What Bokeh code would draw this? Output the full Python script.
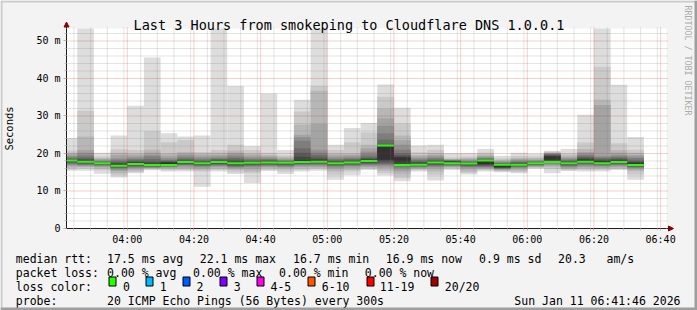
import math
from bokeh.plotting import figure
from bokeh.models import ColumnDataSource, FixedTicker, Range1d, Arrow, NormalHead, LinearAxis
from bokeh.core.properties import value
from bokeh.embed import file_html
from bokeh.resources import INLINE

# ---------------- data ----------------
TITLE = "Last 3 Hours from smokeping to Cloudflare DNS 1.0.0.1"
Y_LABEL = "Seconds"
WATERMARK = "RRDTOOL / TOBI OETIKER"
VIEW_START = "03:41:46"
VIEW_END = "06:41:46"
STEP_MINUTES = 5
Y_MAX_MS = 53.333

SLOTS = ["03:40", "03:45", "03:50", "03:55", "04:00", "04:05", "04:10", "04:15", "04:20",
         "04:25", "04:30", "04:35", "04:40", "04:45", "04:50", "04:55", "05:00", "05:05",
         "05:10", "05:15", "05:20", "05:25", "05:30", "05:35", "05:40", "05:45", "05:50",
         "05:55", "06:00", "06:05", "06:10", "06:15", "06:20", "06:25", "06:30"]

# 20 sorted ping rtts (ms) per 5-minute slot
PINGS = [
    [15.4, 15.7, 16.2, 16.6, 16.9, 17.1, 17.4, 17.6, 17.8, 18.0, 18.2, 18.3, 18.5, 18.7, 19.0, 19.3, 19.8, 20.2, 20.8, 24.1],
    [15.4, 15.9, 16.3, 16.5, 16.7, 16.9, 17.1, 17.3, 17.5, 17.7, 18.0, 18.3, 18.6, 19.0, 19.5, 20.2, 20.9, 24.5, 31.4, 55.0],
    [14.6, 15.5, 15.9, 16.3, 16.6, 16.7, 16.9, 17.0, 17.2, 17.3, 17.5, 17.6, 17.7, 17.8, 18.0, 18.2, 18.5, 18.8, 19.2, 20.2],
    [13.6, 14.2, 14.7, 15.3, 15.6, 15.9, 16.1, 16.3, 16.5, 16.7, 17.0, 17.3, 17.6, 17.9, 18.3, 18.7, 19.6, 20.2, 21.1, 24.8],
    [14.7, 15.0, 15.4, 15.8, 16.1, 16.3, 16.5, 16.7, 16.9, 17.1, 17.4, 17.7, 18.0, 18.3, 18.6, 19.0, 19.5, 20.0, 20.9, 32.7],
    [15.5, 15.7, 15.9, 16.1, 16.2, 16.3, 16.5, 16.6, 16.7, 16.8, 17.1, 17.5, 17.9, 18.5, 19.2, 19.6, 20.2, 21.0, 26.0, 45.6],
    [15.2, 15.5, 15.8, 16.1, 16.3, 16.5, 16.6, 16.7, 16.8, 17.0, 17.6, 17.7, 17.9, 18.1, 18.3, 18.8, 19.4, 20.0, 23.0, 25.4],
    [15.2, 15.6, 15.8, 16.2, 16.6, 16.9, 17.0, 17.2, 17.4, 17.6, 17.8, 18.0, 18.3, 18.6, 19.0, 19.5, 19.9, 20.4, 23.6, 24.5],
    [11.1, 15.2, 15.5, 15.9, 16.3, 16.6, 16.7, 16.9, 17.1, 17.3, 17.5, 17.7, 17.9, 18.2, 18.6, 19.0, 19.5, 20.0, 20.4, 24.8],
    [15.2, 15.6, 15.9, 16.3, 16.6, 16.8, 17.0, 17.2, 17.4, 17.6, 17.8, 18.0, 18.3, 18.5, 18.8, 19.2, 19.6, 20.2, 20.9, 56.0],
    [14.5, 15.0, 15.6, 15.9, 16.2, 16.4, 16.6, 16.8, 17.0, 17.3, 17.6, 17.9, 18.3, 18.7, 19.2, 19.7, 20.2, 20.8, 22.3, 38.0],
    [12.1, 14.7, 15.2, 15.8, 16.3, 16.6, 16.8, 17.0, 17.2, 17.4, 17.6, 17.8, 18.0, 18.3, 18.6, 19.0, 19.5, 20.0, 20.9, 22.0],
    [15.3, 15.6, 16.0, 16.3, 16.5, 16.7, 16.9, 17.1, 17.3, 17.5, 17.7, 17.9, 18.1, 18.3, 18.5, 18.9, 19.2, 19.6, 20.2, 36.0],
    [14.5, 15.1, 15.7, 16.1, 16.4, 16.6, 16.8, 17.0, 17.2, 17.4, 17.6, 17.7, 17.8, 18.0, 18.2, 18.4, 18.7, 19.1, 19.5, 20.9],
    [15.2, 15.6, 16.0, 16.4, 16.7, 16.9, 17.1, 17.3, 17.5, 17.8, 18.2, 19.1, 20.2, 21.4, 23.4, 24.3, 25.0, 27.7, 31.2, 34.3],
    [15.4, 15.8, 16.1, 16.4, 16.7, 16.9, 17.2, 17.4, 17.6, 17.8, 18.1, 18.5, 19.0, 19.6, 20.2, 21.0, 27.9, 36.7, 38.0, 57.0],
    [13.0, 14.3, 15.2, 15.8, 16.2, 16.5, 16.7, 16.9, 17.1, 17.3, 17.6, 17.8, 18.0, 18.3, 18.6, 19.0, 19.5, 20.0, 20.9, 22.3],
    [14.2, 15.2, 15.6, 16.1, 16.5, 16.7, 16.9, 17.1, 17.3, 17.5, 17.7, 17.9, 18.2, 18.5, 18.8, 19.2, 19.6, 20.0, 23.0, 26.8],
    [15.6, 15.8, 16.1, 16.4, 16.7, 16.9, 17.2, 17.4, 17.6, 17.9, 18.2, 18.5, 18.8, 19.2, 19.8, 20.5, 21.4, 22.3, 25.6, 28.1],
    [14.1, 14.7, 15.4, 16.1, 16.5, 16.9, 17.2, 17.5, 17.9, 18.3, 21.8, 22.0, 22.6, 23.7, 25.4, 27.4, 29.4, 32.0, 35.1, 38.4],
    [12.6, 13.4, 14.4, 15.2, 15.7, 16.2, 16.6, 16.9, 17.2, 17.8, 18.9, 19.2, 19.6, 20.1, 21.0, 22.3, 23.5, 24.8, 28.0, 32.2],
    [15.2, 15.5, 15.8, 16.0, 16.2, 16.4, 16.6, 16.7, 16.8, 17.0, 17.2, 17.5, 17.8, 18.1, 18.4, 18.8, 19.2, 19.6, 20.3, 22.1],
    [12.8, 14.3, 15.2, 15.9, 16.3, 16.6, 16.8, 17.0, 17.2, 17.4, 17.7, 17.9, 18.1, 18.4, 18.8, 19.2, 19.6, 20.1, 21.0, 22.3],
    [15.6, 15.9, 16.2, 16.4, 16.6, 16.7, 16.9, 17.1, 17.3, 17.5, 17.8, 17.9, 18.0, 18.1, 18.2, 18.3, 18.4, 18.6, 18.9, 20.1],
    [14.4, 14.8, 15.2, 15.8, 16.2, 16.4, 16.6, 16.8, 17.0, 17.2, 17.4, 17.5, 17.6, 17.8, 18.0, 18.2, 18.5, 18.8, 19.2, 20.1],
    [15.2, 15.5, 15.8, 16.0, 16.2, 16.4, 16.6, 16.8, 17.0, 17.2, 18.2, 18.3, 18.4, 18.6, 18.8, 19.0, 19.3, 19.7, 20.2, 21.2],
    [15.0, 15.2, 15.4, 15.6, 15.8, 15.9, 16.0, 16.1, 16.2, 16.4, 17.1, 17.2, 17.3, 17.4, 17.6, 17.8, 18.0, 18.3, 18.7, 19.4],
    [14.7, 15.0, 15.4, 15.8, 16.1, 16.3, 16.5, 16.6, 16.8, 16.9, 17.1, 17.3, 17.5, 17.7, 17.9, 18.2, 18.5, 18.8, 19.3, 20.2],
    [15.9, 16.1, 16.3, 16.5, 16.6, 16.8, 16.9, 17.0, 17.2, 17.3, 17.5, 17.6, 17.7, 17.8, 18.0, 18.2, 18.4, 18.8, 19.2, 19.9],
    [14.7, 15.8, 16.3, 16.7, 17.0, 17.3, 17.6, 17.9, 18.1, 18.3, 19.2, 19.4, 19.6, 19.8, 19.9, 20.0, 20.1, 20.3, 20.5, 20.7],
    [15.3, 15.5, 15.8, 16.0, 16.3, 16.5, 16.7, 16.9, 17.1, 17.3, 17.5, 17.7, 17.9, 18.1, 18.4, 18.7, 19.0, 19.5, 20.0, 21.2],
    [15.2, 15.6, 15.9, 16.3, 16.6, 16.9, 17.2, 17.4, 17.7, 18.0, 18.3, 18.6, 18.9, 19.2, 19.6, 20.0, 20.4, 21.2, 22.9, 30.3],
    [15.2, 15.6, 15.9, 16.2, 16.5, 16.7, 16.9, 17.1, 17.3, 17.5, 17.9, 18.1, 18.4, 18.7, 19.0, 19.4, 32.9, 34.3, 43.1, 58.0],
    [15.6, 15.8, 16.0, 16.4, 16.7, 16.9, 17.1, 17.3, 17.5, 17.7, 18.0, 18.3, 18.6, 18.9, 19.2, 19.6, 20.2, 20.9, 22.7, 38.3],
    [13.0, 14.4, 15.3, 15.7, 16.0, 16.2, 16.4, 16.6, 16.8, 17.0, 17.4, 17.7, 18.0, 18.3, 18.8, 19.2, 19.6, 20.2, 21.0, 24.4],
]

MEDIAN = [18.1, 17.8, 17.4, 16.7, 17.2, 16.9, 16.9, 17.7, 17.4, 17.7,
          17.4, 17.5, 17.6, 17.5, 17.7, 17.8, 17.4, 17.6, 18.0, 22.1,
          16.9, 17.0, 17.6, 17.4, 17.3, 18.1, 17.0, 17.0, 17.4, 17.7,
          17.4, 17.8, 17.4, 17.7, 16.9]

Y_TICKS = [0, 10, 20, 30, 40, 50]
Y_TICK_LABELS = ["0", "10 m", "20 m", "30 m", "40 m", "50 m"]
X_TICK_TIMES = ["04:00", "04:20", "04:40", "05:00", "05:20", "05:40", "06:00", "06:20", "06:40"]

MEDIAN_RTT_ITEMS = ["17.5 ms avg", "22.1 ms max", "16.7 ms min", "16.9 ms now", "0.9 ms sd", "20.3", "am/s"]
PACKET_LOSS_ITEMS = ["0.00 % avg", "0.00 % max", "0.00 % min", "0.00 % now"]
LOSS_LABELS = ["0", "1", "2", "3", "4-5", "6-10", "11-19", "20/20"]
LOSS_COLORS = ["#26ff00", "#00b8ff", "#0059ff", "#7e00ff", "#ff00ea", "#ff5500", "#ff0000", "#a10000"]
PROBE_TEXT = "20 ICMP Echo Pings (56 Bytes) every 300s"
TIMESTAMP = "Sun Jan 11 06:41:46 2026"


def to_min(s):
    parts = [int(v) for v in s.split(":")]
    while len(parts) < 3:
        parts.append(0)
    return parts[0] * 60 + parts[1] + parts[2] / 60.0


# ---------------- layout constants (pixels of the 697x310 page) ----------------
W, H = 697, 310
CANVAS_L, CANVAS_R, CANVAS_T, CANVAS_B = 66, 666, 28, 228
FONT = "DejaVu Sans Mono"
BG = "#f3f3f3"
AXIS_C = "#1e1e1e"
ARROW_C = "#8b0000"
MAJOR_C, MINOR_C = "#cc2222", "#808080"
SHADE_A, SHADE_B = "#cbcbcb", "#9e9e9e"

x0, x1 = to_min(VIEW_START), to_min(VIEW_END)
px_x = (x1 - x0) / (CANVAS_R - CANVAS_L)
px_y = Y_MAX_MS / (CANVAS_B - CANVAS_T)

# one figure whose frame is the whole page; the graph's own scale maps
# VIEW_START..VIEW_END onto the rrdtool canvas, axes are pinned with fixed_location
p = figure(width=W, height=H, title=None,
           x_range=Range1d(x0 - CANVAS_L * px_x, x0 + (W - CANVAS_L) * px_x),
           y_range=Range1d(-(H - CANVAS_B) * px_y, CANVAS_B * px_y),
           x_axis_type=None, y_axis_type=None,
           output_backend="svg", toolbar_location=None,
           min_border_left=0, min_border_right=0, min_border_top=0, min_border_bottom=0)
p.extra_x_ranges = {"px": Range1d(0, W)}
p.extra_y_ranges = {"px": Range1d(H, 0)}
p.background_fill_color = BG
p.border_fill_color = BG
p.outline_line_color = None
p.grid.visible = False

# white canvas of the graph
p.quad(left=[x0], right=[x1], bottom=[0], top=[Y_MAX_MS], fill_color="#ffffff", line_color=None)

# smoke: layer i spans ping i .. ping n-1-i, darker towards the centre
n_pings = len(PINGS[0])
half = n_pings // 2
left, right, bottom, top, color = [], [], [], [], []
for i in range(half):
    g = int(190 / half * (half - 1 - i)) + 50
    col = "#%02x%02x%02x" % (g, g, g)
    for k, s in enumerate(SLOTS):
        t = to_min(s)
        left.append(max(t, x0))
        right.append(t + STEP_MINUTES)
        bottom.append(min(PINGS[k][i], Y_MAX_MS))
        top.append(min(PINGS[k][n_pings - 1 - i], Y_MAX_MS))
        color.append(col)
smoke = ColumnDataSource(dict(left=left, right=right, bottom=bottom, top=top, color=color))
p.quad(left="left", right="right", bottom="bottom", top="top", fill_color="color",
       line_color=None, source=smoke)

# median band (2 px tall)
ms = ColumnDataSource(dict(
    left=[max(to_min(s), x0) for s in SLOTS],
    right=[to_min(s) + STEP_MINUTES for s in SLOTS],
    bottom=[m - px_y for m in MEDIAN],
    top=[m + px_y for m in MEDIAN],
))
p.quad(left="left", right="right", bottom="bottom", top="top", fill_color=LOSS_COLORS[0],
       line_color=None, source=ms)

# ---------------- grid (dotted, on top of the smoke) ----------------
x_ticks = [to_min(s) for s in X_TICK_TIMES]
x_minor = [m for m in range(int(x0) + 3, int(x1) + 1, 5) if m % 20 != 0]
y_minor = [v for v in range(2, 54, 2) if v % 10 != 0]
y_major = [v for v in Y_TICKS if v > 0]


def vgrid(xs, c, a):
    p.segment(x0=xs, x1=xs, y0=[0] * len(xs), y1=[Y_MAX_MS + 2 * px_y] * len(xs),
              line_color=c, line_alpha=a, line_width=1, line_dash="1 1")


def hgrid(ys, c, a):
    p.segment(x0=[x0] * len(ys), x1=[x1 + 2 * px_x] * len(ys), y0=ys, y1=ys,
              line_color=c, line_alpha=a, line_width=1, line_dash="1 1")


vgrid(x_minor, MINOR_C, 0.42)
hgrid(y_minor, MINOR_C, 0.42)
vgrid(x_ticks, MAJOR_C, 0.42)
hgrid(y_major, MAJOR_C, 0.42)

# ---------------- axes ----------------
xt = FixedTicker(ticks=x_ticks, minor_ticks=x_minor)
yt = FixedTicker(ticks=Y_TICKS, minor_ticks=y_minor)
xaxis = LinearAxis(fixed_location=0, ticker=xt, bounds=(x0, x1),
                   major_label_overrides={t: lab for t, lab in zip(x_ticks, X_TICK_TIMES)})
yaxis = LinearAxis(fixed_location=x0, ticker=yt, bounds=(0, Y_MAX_MS),
                   major_label_overrides={t: lab for t, lab in zip(Y_TICKS, Y_TICK_LABELS)})
for ax in (xaxis, yaxis):
    ax.axis_line_color = AXIS_C
    ax.major_tick_in = 0
    ax.minor_tick_in = 0
    ax.major_tick_out = 2
    ax.minor_tick_out = 2
    ax.major_tick_line_color = "#e89c9c"
    ax.minor_tick_line_color = "#c6c6c6"
    ax.major_label_text_font = FONT
    ax.major_label_text_font_size = "10px"
    ax.major_label_text_color = "#000000"
yaxis.major_tick_out = 3
yaxis.major_label_standoff = 3
xaxis.major_label_standoff = 3
yaxis.axis_label = Y_LABEL
yaxis.axis_label_text_font = FONT
yaxis.axis_label_text_font_size = "10.5px"
yaxis.axis_label_text_font_style = "normal"
yaxis.axis_label_text_color = "#000000"
yaxis.axis_label_standoff = 18
p.add_layout(xaxis, "below")
p.add_layout(yaxis, "left")

# axis arrows
p.add_layout(Arrow(end=NormalHead(size=5, fill_color=ARROW_C, line_color=ARROW_C, line_width=1),
                   x_start=x1, y_start=0, x_end=x1 + 7 * px_x, y_end=0,
                   line_color=AXIS_C, line_width=1))
p.add_layout(Arrow(end=NormalHead(size=5, fill_color=ARROW_C, line_color=ARROW_C, line_width=1),
                   x_start=x0, y_start=Y_MAX_MS, x_end=x0, y_end=Y_MAX_MS + 6.5 * px_y,
                   line_color=AXIS_C, line_width=1))

# ---------------- texts in page pixels ----------------
p.text(x=[W / 2], y=[24], text=[TITLE], x_range_name="px", y_range_name="px",
       text_align="center", text_baseline="alphabetic", text_color="#000000",
       text_font=value(FONT), text_font_size=value("13.5px"))
p.text(x=[687.5], y=[5], text=[WATERMARK], x_range_name="px", y_range_name="px",
       angle=-math.pi / 2, text_align="left", text_baseline="middle", text_color="#ababab",
       text_font=value(FONT), text_font_size=value("8.3px"))

rows_y = [258, 272, 286, 300]
tx, ty, tt, ta = [], [], [], []


def put(x, y, s, align="left"):
    tx.append(x)
    ty.append(y)
    tt.append(s)
    ta.append(align)


put(15.3, rows_y[0], "median rtt:")
for xx, s in zip([106.6, 199.3, 292.6, 385.3, 478.6, 557.6, 606.0], MEDIAN_RTT_ITEMS):
    put(xx, rows_y[0], s)
put(15.3, rows_y[1], "packet loss:")
for xx, s in zip([106.6, 192.6, 278.6, 364.3], PACKET_LOSS_ITEMS):
    put(xx, rows_y[1], s)
put(15.3, rows_y[2], "loss color:")
box_x = [108, 145, 182, 219, 256, 307, 366, 430]
lab_x = [122.6, 159.3, 196.0, 233.3, 270.0, 321.3, 379.3, 444.3]
for lx, lab in zip(lab_x, LOSS_LABELS):
    put(lx, rows_y[2], lab)
put(15.3, rows_y[3], "probe:")
put(106.6, rows_y[3], PROBE_TEXT)
put(680, rows_y[3], TIMESTAMP, "right")

p.text(x=tx, y=ty, text=tt, text_align=ta, text_baseline="alphabetic", text_color="#000000",
       x_range_name="px", y_range_name="px",
       text_font=value(FONT), text_font_size=value("11.5px"))
p.quad(left=[b + 0.5 for b in box_x], right=[b + 7.5 for b in box_x],
       top=[276.5] * len(box_x), bottom=[285.5] * len(box_x),
       x_range_name="px", y_range_name="px",
       fill_color=LOSS_COLORS, line_color="#000000", line_width=1)

# 3D frame: light top/left, dark bottom/right
p.quad(left=[0, 0], right=[W, 2], top=[0, 0], bottom=[2, H],
       x_range_name="px", y_range_name="px", fill_color=SHADE_A, line_color=None)
p.quad(left=[0, W - 3], right=[W, W], top=[H - 3, 0], bottom=[H, H],
       x_range_name="px", y_range_name="px", fill_color=SHADE_B, line_color=None)

open("out.html", "w").write(file_html(p, INLINE))
